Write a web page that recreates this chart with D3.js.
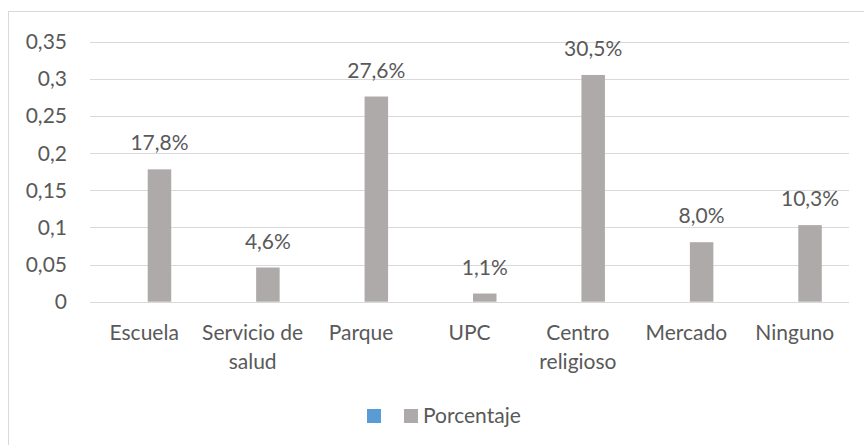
<!DOCTYPE html>
<html>
<head>
<meta charset="utf-8">
<script src="https://cdn.jsdelivr.net/npm/d3@7"></script>
<style>
  body { margin: 0; background: #fff; }
  svg text { font-family: Lato, "Open Sans", sans-serif; fill: #595959; }
</style>
</head>
<body>
<div id="chart"></div>
<script>
// data
var categories = ["Escuela", "Servicio de salud", "Parque", "UPC", "Centro religioso", "Mercado", "Ninguno"];
var seriesNames = ["", "Porcentaje"];
var blankValues = [null, null, null, null, null, null, null]; // empty first series (legend only)
var porcentaje = [0.178, 0.046, 0.276, 0.011, 0.305, 0.080, 0.103];
var yTicks = [0, 0.05, 0.1, 0.15, 0.2, 0.25, 0.3, 0.35];
var yTickLabels = ["0", "0,05", "0,1", "0,15", "0,2", "0,25", "0,3", "0,35"];

var W = 864, H = 445;
var margin = {top: 41.5, left: 90, right: 15, bottom: 143};
var colors = ["#5B9BD5", "#ADAAA9"];
var fs = "21px";

var svg = d3.select("#chart").append("svg")
    .attr("width", W).attr("height", H);

// chart border
svg.append("rect")
    .attr("x", 8.5).attr("y", 11.5)
    .attr("width", W).attr("height", H)
    .attr("fill", "none").attr("stroke", "#D9D9D9").attr("stroke-width", 1);

var x0 = d3.scaleBand().domain(categories).range([margin.left, W - margin.right]).padding(0);
var bw = x0.bandwidth();
var x1 = d3.scaleBand().domain(seriesNames).range([(bw - 54) / 2, (bw + 54) / 2]).paddingInner(0.23);
var y = d3.scaleLinear().domain([0, 0.35]).range([H - margin.bottom - 0.3, margin.top]);

// gridlines
svg.append("g").selectAll("line").data(yTicks).join("line")
    .attr("x1", margin.left).attr("x2", W - margin.right)
    .attr("y1", function (d) { return Math.round(y(d)) + 0.5; })
    .attr("y2", function (d) { return Math.round(y(d)) + 0.5; })
    .attr("stroke", "#D9D9D9").attr("stroke-width", 1);

// y tick labels
svg.append("g").selectAll("text").data(yTicks).join("text")
    .attr("x", 67).attr("y", function (d) { return y(d); })
    .attr("dy", "0.36em")
    .attr("text-anchor", "end")
    .style("font-size", fs)
    .text(function (d, i) { return yTickLabels[i]; });

var rows = categories.map(function (c, i) {
    return {cat: c, vals: [blankValues[i], porcentaje[i]]};
});

var groups = svg.append("g").selectAll("g").data(rows).join("g")
    .attr("transform", function (d) { return "translate(" + x0(d.cat) + ",0)"; });

groups.selectAll("rect")
    .data(function (d) { return d.vals.map(function (v, j) { return {s: seriesNames[j], v: v, j: j}; }).filter(function (e) { return e.v != null; }); })
    .join("rect")
    .attr("x", function (e) { return x1(e.s); })
    .attr("width", x1.bandwidth())
    .attr("y", function (e) { return y(e.v); })
    .attr("height", function (e) { return y(0) - y(e.v); })
    .attr("fill", function (e) { return colors[e.j]; });

// value labels
groups.append("text")
    .attr("x", x1("Porcentaje") + x1.bandwidth() / 2)
    .attr("y", function (d) { return y(d.vals[1]) - 19; })
    .attr("text-anchor", "middle")
    .style("font-size", fs)
    .text(function (d) { return (d.vals[1] * 100).toFixed(1).replace(".", ",") + "%"; });

// category labels (wrap two-word ones like the original)
var wrapped = {"Servicio de salud": ["Servicio de", "salud"], "Centro religioso": ["Centro", "religioso"]};
groups.append("text")
    .attr("text-anchor", "middle")
    .style("font-size", fs)
    .each(function (d) {
        var lines = wrapped[d.cat] || [d.cat];
        var t = d3.select(this);
        lines.forEach(function (l, k) {
            t.append("tspan").attr("x", bw / 2).attr("y", 340 + k * 29).text(l);
        });
    });

// legend
var legend = svg.append("g");
legend.append("rect").attr("x", 367).attr("y", 409).attr("width", 14).attr("height", 14).attr("fill", colors[0]);
legend.append("rect").attr("x", 404).attr("y", 409).attr("width", 14).attr("height", 14).attr("fill", colors[1]);
legend.append("text").attr("x", 423).attr("y", 423).style("font-size", fs).text(seriesNames[1]);
</script>
</body>
</html>
